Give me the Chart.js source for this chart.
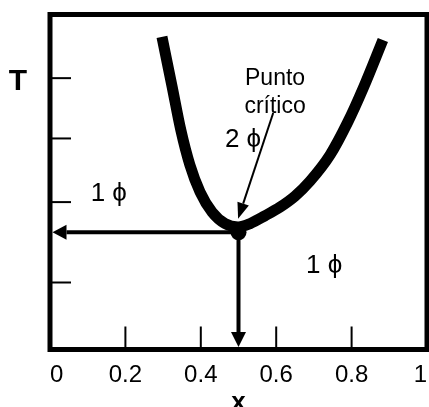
<!DOCTYPE html>
<html lang="es">
<head>
<meta charset="utf-8">
<title>Diagrama T–x con punto crítico</title>
<script src="https://cdn.jsdelivr.net/npm/chart.js@4.4.1/dist/chart.umd.min.js"></script>
<style>
  html, body { margin: 0; padding: 0; background: #fff; }
  canvas { display: block; }
</style>
</head>
<body>
<canvas id="chartFases" width="429" height="407"></canvas>
<script>
// Curva de coexistencia (composición x, temperatura normalizada)
const curvaX = [0.297, 0.324, 0.347, 0.371, 0.398, 0.430, 0.464, 0.499, 0.531, 0.570, 0.610, 0.650, 0.690, 0.743, 0.790, 0.830, 0.883];
const curvaT = [0.933, 0.784, 0.655, 0.551, 0.470, 0.410, 0.376, 0.366, 0.376, 0.399, 0.425, 0.458, 0.503, 0.581, 0.679, 0.778, 0.924];

// Punto crítico
const criticoX = [0.5];
const criticoT = [0.35];

// Marcas de los ejes
const ticksX = [0, 0.2, 0.4, 0.6, 0.8, 1];
const ticksT = [0.2, 0.44, 0.63, 0.81];

// Flecha desde "Punto crítico" hacia el punto
const flechaDesde = [0.592, 0.706];
const flechaHasta = [0.499, 0.39];

const FUENTE = "'Liberation Sans', Arial, sans-serif";

// ===== Dibujo auxiliar =====

function linea(ctx, x1, y1, x2, y2) {
  ctx.beginPath();
  ctx.moveTo(x1, y1);
  ctx.lineTo(x2, y2);
  ctx.stroke();
}

function flecha(ctx, x1, y1, x2, y2, largo, ancho) {
  const ang = Math.atan2(y2 - y1, x2 - x1);
  const bx = x2 - Math.cos(ang) * largo;
  const by = y2 - Math.sin(ang) * largo;
  linea(ctx, x1, y1, bx, by);
  ctx.beginPath();
  ctx.moveTo(x2, y2);
  ctx.lineTo(bx + Math.sin(ang) * ancho, by - Math.cos(ang) * ancho);
  ctx.lineTo(bx - Math.sin(ang) * ancho, by + Math.cos(ang) * ancho);
  ctx.closePath();
  ctx.fill();
}

const marcoYAnotaciones = {
  id: "marcoYAnotaciones",
  afterDatasetsDraw(chart) {
    const { ctx, chartArea: a, scales: { x, y } } = chart;
    ctx.save();
    ctx.strokeStyle = "#000";
    ctx.fillStyle = "#000";

    // marcas hacia adentro
    ctx.lineWidth = 2;
    ticksX.slice(1, -1).forEach(v => {
      const px = x.getPixelForValue(v);
      linea(ctx, px, a.bottom, px, a.bottom - 23);
    });
    ticksT.forEach(v => {
      const py = y.getPixelForValue(v);
      linea(ctx, a.left, py, a.left + 21, py);
    });

    // flechas desde el punto crítico hacia los ejes
    const cx = x.getPixelForValue(criticoX[0]);
    const cy = y.getPixelForValue(criticoT[0]);
    ctx.lineWidth = 4;
    flecha(ctx, cx, cy, a.left + 2.5, cy, 14, 7.5);
    flecha(ctx, cx, cy, cx, a.bottom - 2.5, 15, 7.5);

    ctx.lineWidth = 2;
    flecha(ctx,
      x.getPixelForValue(flechaDesde[0]), y.getPixelForValue(flechaDesde[1]),
      x.getPixelForValue(flechaHasta[0]), y.getPixelForValue(flechaHasta[1]), 16, 6);

    // marco
    ctx.lineWidth = 5;
    ctx.strokeRect(a.left, a.top, a.right - a.left, a.bottom - a.top);

    // textos
    ctx.textAlign = "center";
    ctx.textBaseline = "middle";
    ctx.font = "bold 30px " + FUENTE;
    ctx.fillText("T", a.left - 32, y.getPixelForValue(0.8));

    ctx.font = "23px " + FUENTE;
    ctx.fillText("Punto", x.getPixelForValue(0.597), y.getPixelForValue(0.809));
    ctx.fillText("crítico", x.getPixelForValue(0.597), y.getPixelForValue(0.724));

    ctx.font = "26px " + FUENTE;
    ctx.fillText("2 \u03d5", x.getPixelForValue(0.512), y.getPixelForValue(0.625));
    ctx.fillText("1 \u03d5", x.getPixelForValue(0.156), y.getPixelForValue(0.464));
    ctx.fillText("1 \u03d5", x.getPixelForValue(0.727), y.getPixelForValue(0.249));

    ctx.restore();
  }
};

// ===== Gráfico =====

new Chart(document.getElementById("chartFases"), {
  type: "scatter",
  data: {
    datasets: [
      {
        label: "Punto crítico",
        data: criticoX.map((v, i) => ({ x: v, y: criticoT[i] })),
        pointRadius: 8,
        pointBackgroundColor: "#000",
        pointBorderWidth: 0,
        order: 0
      },
      {
        label: "Curva",
        data: curvaX.map((v, i) => ({ x: v, y: curvaT[i] })),
        showLine: true,
        borderColor: "#000",
        borderWidth: 11,
        pointRadius: 0,
        cubicInterpolationMode: "monotone",
        order: 1
      }
    ]
  },
  options: {
    responsive: false,
    animation: false,
    layout: { autoPadding: false, padding: { left: 50, top: 14.5, right: 2, bottom: 0 } },
    plugins: { legend: { display: false }, tooltip: { enabled: false } },
    scales: {
      x: {
        type: "linear",
        min: 0,
        max: 1,
        grid: { display: false, drawTicks: false },
        border: { display: false },
        afterBuildTicks: s => { s.ticks = ticksX.map(v => ({ value: v })); },
        afterFit: s => {
          s.height = 57.5;
          s.paddingLeft = 0;
          s.paddingRight = 0;
        },
        ticks: {
          color: "#000",
          font: { family: FUENTE, size: 24 },
          padding: 11,
          align: "inner",
          maxRotation: 0,
          autoSkip: false,
          callback: v => String(v)
        },
        title: {
          display: true,
          text: "x",
          color: "#000",
          font: { family: FUENTE, size: 26, weight: "bold" },
          padding: { top: 0, bottom: -11 }
        }
      },
      y: { type: "linear", min: 0, max: 1, display: false }
    }
  },
  plugins: [marcoYAnotaciones]
});
</script>
</body>
</html>
